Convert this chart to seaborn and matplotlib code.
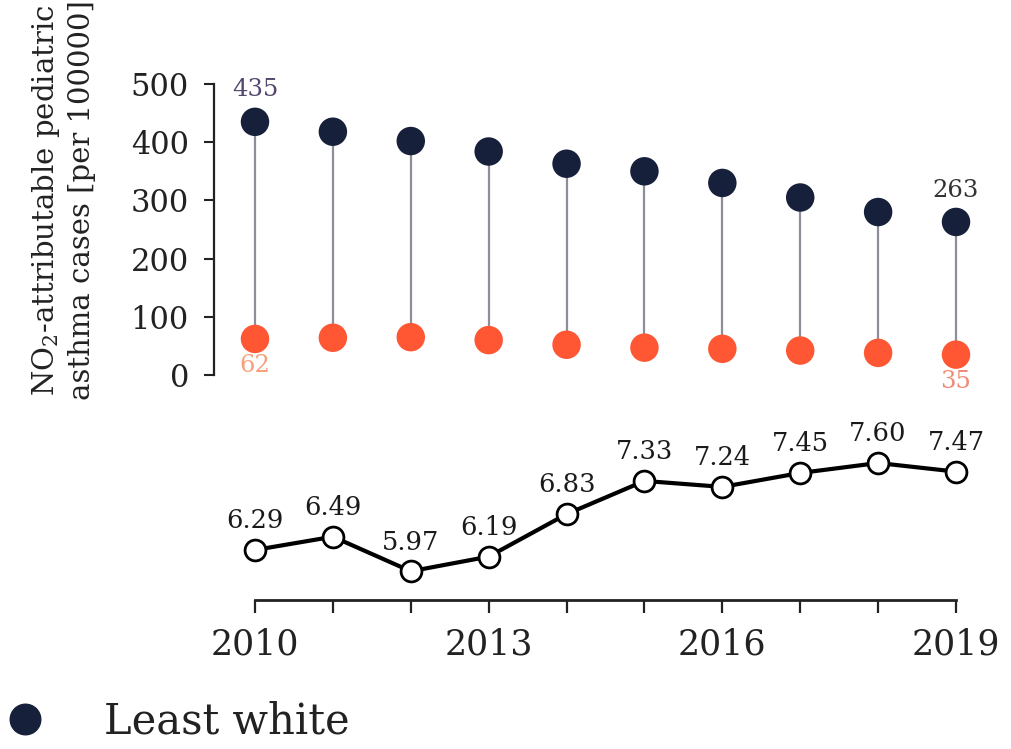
import numpy as np
import pandas as pd
import matplotlib
matplotlib.use("Agg")
import matplotlib.pyplot as plt
import seaborn as sns
from matplotlib.lines import Line2D

# ---- data ----
years = [2010, 2011, 2012, 2013, 2014, 2015, 2016, 2017, 2018, 2019]
least_white = [435, 418, 402, 384, 363, 350, 330, 305, 280, 263]
most_white = [62, 64, 65, 60, 52, 47, 45, 42, 38, 35]
ratio = [6.29, 6.49, 5.97, 6.19, 6.83, 7.33, 7.24, 7.45, 7.60, 7.47]
ratio_labels = ["6.29", "6.49", "5.97", "6.19", "6.83", "7.33", "7.24", "7.45", "7.60", "7.47"]
year_ticklabels = ["2010", "2013", "2016", "2019"]
y_ticks = [0, 100, 200, 300, 400, 500]

dark = "#17203a"
orange = "#ff5733"
stem = "#8e8e9a"

sns.set_theme(style="white")
plt.rcParams["font.family"] = ["DejaVu Serif"]
plt.rcParams["mathtext.fontset"] = "dejavuserif"

df = pd.DataFrame({"year": years, "least": least_white, "most": most_white, "ratio": ratio})

W, H = 1011, 749
fig = plt.figure(figsize=(W / 100, H / 100), dpi=100)
fig.patch.set_facecolor("white")

x0, x1 = 214, 1000
xlim = (2010 - (255 - x0) / 77.9, 2019 + (x1 - 956) / 77.9)

ax1 = fig.add_axes([x0 / W, (H - 375) / H, (x1 - x0) / W, 291 / H])
ax2 = fig.add_axes([x0 / W, (H - 600) / H, (x1 - x0) / W, 160 / H])

# ---- top panel: dumbbell ----
ax1.vlines(df["year"], df["most"], df["least"], color=stem, lw=1.6, zorder=1)
sns.scatterplot(data=df, x="year", y="least", ax=ax1, color=dark, s=420,
                edgecolor="none", zorder=3, clip_on=False, legend=False)
sns.scatterplot(data=df, x="year", y="most", ax=ax1, color=orange, s=420,
                edgecolor="none", zorder=3, clip_on=False, legend=False)
ax1.set_xlim(*xlim)
ax1.set_ylim(0, 500)
ax1.set_yticks(y_ticks)
ax1.set_yticklabels([str(v) for v in y_ticks])
ax1.tick_params(axis="y", direction="out", length=7, width=1.5, pad=11,
                labelsize=22, colors="#222222", left=True)
ax1.set_xticks([])
for s in ["top", "right", "bottom"]:
    ax1.spines[s].set_visible(False)
ax1.spines["left"].set_linewidth(1.6)
ax1.spines["left"].set_color("#222222")
ax1.set_xlabel("")
ax1.set_ylabel("")
ax1.patch.set_alpha(0)

ax1.annotate(str(least_white[0]), (years[0], least_white[0]), xytext=(0, 15),
             textcoords="offset points", ha="center", va="bottom",
             fontsize=17.5, color="#55486e")
ax1.annotate(str(least_white[-1]), (years[-1], least_white[-1]), xytext=(0, 14),
             textcoords="offset points", ha="center", va="bottom",
             fontsize=17.5, color="#333333")
ax1.annotate(str(most_white[0]), (years[0], most_white[0]), xytext=(0, -11),
             textcoords="offset points", ha="center", va="top",
             fontsize=17.5, color="#f6a07c")
ax1.annotate(str(most_white[-1]), (years[-1], most_white[-1]), xytext=(0, -11),
             textcoords="offset points", ha="center", va="top",
             fontsize=17.5, color="#f08a78")

# ---- bottom panel: ratio line ----
sns.lineplot(data=df, x="year", y="ratio", ax=ax2, color="black", lw=3,
             marker="o", markersize=15, markerfacecolor="white",
             markeredgecolor="black", markeredgewidth=2, zorder=3, clip_on=False)
for xv, yv, lab in zip(years, ratio, ratio_labels):
    ax2.annotate(lab, (xv, yv), xytext=(0, 12), textcoords="offset points",
                 ha="center", va="bottom", fontsize=18.5, color="#1a1a1a")
ax2.set_xlim(*xlim)
ax2.set_ylim(6.29 - 50 / 66.4, 7.60 + 23 / 66.4)
ax2.set_xticks(years)
ax2.set_xticklabels([str(y) if str(y) in year_ticklabels else "" for y in years])
ax2.tick_params(axis="x", direction="out", length=9, width=1.6, pad=11,
                labelsize=25, colors="#222222", bottom=True)
ax2.set_yticks([])
for s in ["top", "right", "left"]:
    ax2.spines[s].set_visible(False)
ax2.spines["bottom"].set_bounds(years[0], years[-1])
ax2.spines["bottom"].set_linewidth(2)
ax2.spines["bottom"].set_color("#222222")
ax2.set_xlabel("")
ax2.set_ylabel("")
ax2.patch.set_alpha(0)

# ---- y label ----
fig.text(63 / W, (H - 200) / H,
         "NO$_2$-attributable pediatric\nasthma cases [per 100000]",
         rotation=90, ha="center", va="center", multialignment="center",
         fontsize=21, color="#222222", linespacing=1.25)

# ---- legend ----
handle = Line2D([], [], marker="o", ls="", color=dark, markersize=22)
fig.legend(handles=[handle], labels=["Least white"], loc="lower left",
           bbox_to_anchor=(-0.004, 0.003), fontsize=30, frameon=False,
           handletextpad=1.3, borderpad=0.1, borderaxespad=0.0,
           handlelength=1.2, labelcolor="#222222")

fig.savefig("out.png", dpi=100, facecolor="white")
